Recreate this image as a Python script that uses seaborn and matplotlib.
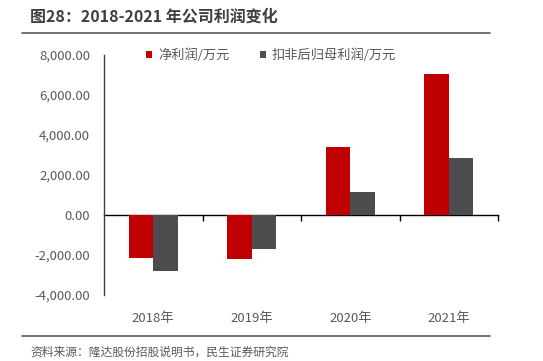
import numpy as np
import pandas as pd
import matplotlib.pyplot as plt
import seaborn as sns
from matplotlib.lines import Line2D

years = ["2018年", "2019年", "2020年", "2021年"]
net_profit = [-2160, -2180, 3400, 7050]
net_profit_adj = [-2790, -1700, 1130, 2830]
series_names = ["净利润/万元", "扣非后归母利润/万元"]
colors = ["#C00000", "#4D4D4F"]
y_ticks = [-4000, -2000, 0, 2000, 4000, 6000, 8000]

df = pd.DataFrame({
    "year": years * 2,
    "value": net_profit + net_profit_adj,
    "series": [series_names[0]] * 4 + [series_names[1]] * 4,
})

sns.set_style("white")
plt.rcParams["font.family"] = ["Noto Sans CJK SC", "DejaVu Sans"]

text_col = "#595959"

fig = plt.figure(figsize=(5.43, 3.61), dpi=100)
ax = fig.add_axes([104/543, 1-295/361, (498-104)/543, (295-55)/361])

sns.barplot(data=df, x="year", y="value", hue="series", palette=colors,
            width=0.5, saturation=1, errorbar=None, ax=ax, edgecolor="none")

ax.set_xlim(-0.5, 3.5)
ax.set_ylim(y_ticks[0], y_ticks[-1])
ax.set_yticks(y_ticks)
ax.set_yticklabels([f"{v:,.2f}" for v in y_ticks])
ax.set_xlabel("")
ax.set_ylabel("")

for s in ["top", "right", "bottom"]:
    ax.spines[s].set_visible(False)
ax.spines["left"].set_color("#404040")
ax.spines["left"].set_linewidth(1)
ax.tick_params(axis="y", direction="in", length=4, width=1, color="#404040",
               labelsize=9.5, labelcolor=text_col, pad=10)
ax.tick_params(axis="x", length=0, labelsize=9.5, labelcolor=text_col, pad=12)

# zero line with category boundary ticks
zero_pos = (0 - y_ticks[0]) / (y_ticks[-1] - y_ticks[0])
sec = ax.secondary_xaxis(zero_pos)
sec.set_xticks([0.5, 1.5, 2.5, 3.5])
sec.set_xticklabels([])
sec.tick_params(axis="x", direction="out", length=4, width=1, color="black")
for s in sec.spines.values():
    s.set_color("black")
    s.set_linewidth(1)

leg = ax.get_legend()
handles = leg.legend_handles
labels = [t.get_text() for t in leg.get_texts()]
leg.remove()
fig.legend(handles, labels, loc="center", bbox_to_anchor=(0.499, 1-55/361),
           ncol=2, frameon=False, fontsize=9.5, handlelength=0.45,
           handleheight=0.45, handletextpad=0.45, columnspacing=2.3,
           borderpad=0, labelcolor=text_col)

fig.text(30/543, 1-17/361, "图28：2018-2021 年公司利润变化", fontsize=11.5,
         fontweight="bold", color="#3F3F3F", va="center", ha="left")
fig.add_artist(Line2D([22/543, 490/543], [1-33/361, 1-33/361],
                      transform=fig.transFigure, color="#595959", lw=1.2))
fig.add_artist(Line2D([22/543, 490/543], [1-335.5/361, 1-335.5/361],
                      transform=fig.transFigure, color="#595959", lw=1.2))
fig.text(30/543, 1-352/361, "资料来源：隆达股份招股说明书，民生证券研究院",
         fontsize=8.5, color=text_col, va="center", ha="left")

fig.savefig("out.png", dpi=100)
